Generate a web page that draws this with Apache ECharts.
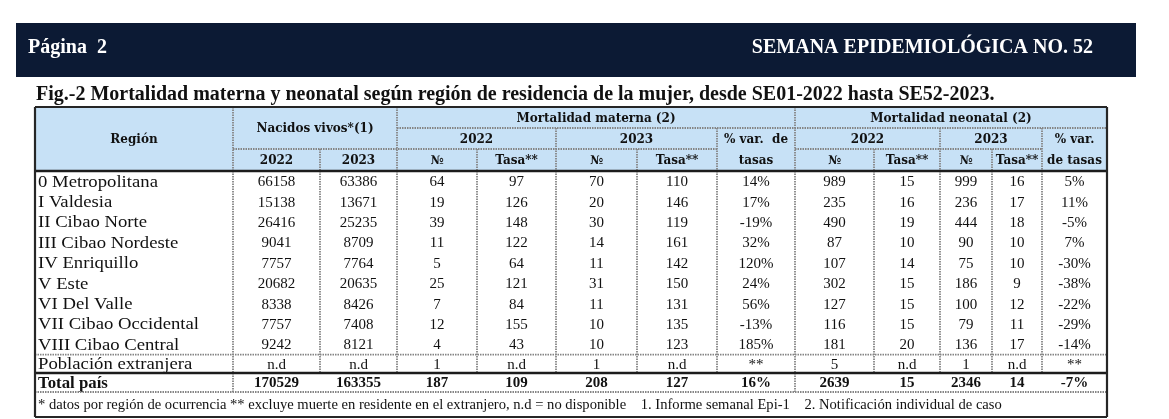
<!DOCTYPE html>
<html>
<head>
<meta charset="utf-8">
<script src="https://cdn.jsdelivr.net/npm/echarts@6/dist/echarts.min.js"></script>
<style>
  html, body { margin: 0; padding: 0; background: #fff; }
  #tabla { width: 1169px; height: 419px; }
</style>
</head>
<body>
<div id="tabla"></div>
<script>
// Mortalidad materna y neonatal por región

var regiones = ['0 Metropolitana', 'I Valdesia', 'II Cibao Norte', 'III Cibao Nordeste', 'IV Enriquillo',
    'V Este', 'VI Del Valle', 'VII Cibao Occidental', 'VIII Cibao Central', 'Población extranjera', 'Total país'];
var nacidos2022 = [66158, 15138, 26416, 9041, 7757, 20682, 8338, 7757, 9242, 'n.d', 170529];
var nacidos2023 = [63386, 13671, 25235, 8709, 7764, 20635, 8426, 7408, 8121, 'n.d', 163355];
var materna2022 = [64, 19, 39, 11, 5, 25, 7, 12, 4, 1, 187];
var tasaMat2022 = [97, 126, 148, 122, 64, 121, 84, 155, 43, 'n.d', 109];
var materna2023 = [70, 20, 30, 14, 11, 31, 11, 10, 10, 1, 208];
var tasaMat2023 = [110, 146, 119, 161, 142, 150, 131, 135, 123, 'n.d', 127];
var varMaterna = ['14%', '17%', '-19%', '32%', '120%', '24%', '56%', '-13%', '185%', '**', '16%'];
var neonatal2022 = [989, 235, 490, 87, 107, 302, 127, 116, 181, 5, 2639];
var tasaNeo2022 = [15, 16, 19, 10, 14, 15, 15, 15, 20, 'n.d', 15];
var neonatal2023 = [999, 236, 444, 90, 75, 186, 100, 79, 136, 1, 2346];
var tasaNeo2023 = [16, 17, 18, 10, 10, 9, 12, 11, 17, 'n.d', 14];
var varNeonatal = ['5%', '11%', '-5%', '7%', '-30%', '-38%', '-22%', '-29%', '-14%', '**', '-7%'];

var nota = '* datos por región de ocurrencia ** excluye muerte en residente en el extranjero, n.d = no disponible    1. Informe semanal Epi-1    2. Notificación individual de caso';

// anchos de columnas y altos de filas (unidades de la tabla)
var anchos = [198, 87, 77, 80, 79, 81, 80, 78, 79, 66, 52, 50, 65];
var altos = [21, 21, 22, 20.4, 20.4, 20.4, 20.4, 20.4, 20.4, 20.4, 20.4, 20.4, 18.4, 19, 25];

function acumular(arr) {
    var r = [0];
    for (var i = 0; i < arr.length; i++) r.push(r[i] + arr[i]);
    return r;
}
var X = acumular(anchos);
var Y = acumular(altos);
var ANCHO = X[X.length - 1], ALTO = Y[Y.length - 1];

var SERIF = '"Liberation Serif", serif';
var SERIF_ENC = '"DejaVu Serif", serif';
var AZUL = '#c7e1f6';

// celdas: c0, c1, r0, r1, texto, tipo
var celdas = [];
function celda(c0, c1, r0, r1, texto, tipo) {
    celdas.push({c0: c0, c1: c1, r0: r0, r1: r1, texto: String(texto), tipo: tipo});
}

// encabezado
celda(0, 1, 0, 3, 'Región', 'hdr');
celda(1, 3, 0, 2, 'Nacidos vivos*(1)', 'hdr');
celda(1, 2, 2, 3, '2022', 'hdr');
celda(2, 3, 2, 3, '2023', 'hdr');
celda(3, 8, 0, 1, 'Mortalidad materna (2)', 'hdr');
celda(3, 5, 1, 2, '2022', 'hdr');
celda(5, 7, 1, 2, '2023', 'hdr');
celda(7, 8, 1, 3, '% var.  de\ntasas', 'hdr2');
celda(3, 4, 2, 3, '№', 'hdr');
celda(4, 5, 2, 3, 'Tasa**', 'hdr');
celda(5, 6, 2, 3, '№', 'hdr');
celda(6, 7, 2, 3, 'Tasa**', 'hdr');
celda(8, 13, 0, 1, 'Mortalidad neonatal (2)', 'hdr');
celda(8, 10, 1, 2, '2022', 'hdr');
celda(10, 12, 1, 2, '2023', 'hdr');
celda(12, 13, 1, 3, '% var.\nde tasas', 'hdr2');
celda(8, 9, 2, 3, '№', 'hdr');
celda(9, 10, 2, 3, 'Tasa**', 'hdr');
celda(10, 11, 2, 3, '№', 'hdr');
celda(11, 12, 2, 3, 'Tasa**', 'hdr');

// cuerpo
var columnas = [nacidos2022, nacidos2023, materna2022, tasaMat2022, materna2023, tasaMat2023, varMaterna,
    neonatal2022, tasaNeo2022, neonatal2023, tasaNeo2023, varNeonatal];
for (var i = 0; i < regiones.length; i++) {
    var total = i === regiones.length - 1;
    celda(0, 1, 3 + i, 4 + i, regiones[i], total ? 'totreg' : 'reg');
    for (var j = 0; j < columnas.length; j++) {
        celda(j + 1, j + 2, 3 + i, 4 + i, columnas[j][i], total ? 'tot' : 'num');
    }
}
celda(0, 13, 14, 15, nota, 'nota');

var estilos = {
    hdr:    {font: SERIF_ENC, size: 12, weight: 'bold', align: 'center'},
    hdr2:   {font: SERIF_ENC, size: 12, weight: 'bold', align: 'center', lh: 21},
    reg:    {font: SERIF, size: 17, weight: 'normal', align: 'left', sx: 1.1},
    totreg: {font: SERIF, size: 16, weight: 'bold', align: 'left', sx: 1.05},
    num:    {font: SERIF, size: 15, weight: 'normal', align: 'center'},
    tot:    {font: SERIF, size: 15, weight: 'bold', align: 'center'},
    nota:   {font: SERIF, size: 14.6, weight: 'normal', align: 'left'}
};

// líneas: x0, y0, x1, y1 (en índices de borde), tipo
var lineas = [];
function linea(a0, b0, a1, b1, tipo) {
    lineas.push({p: [X[a0], Y[b0], X[a1], Y[b1]], tipo: tipo});
}
// verticales del encabezado
[[1, 0, 3], [3, 0, 3], [8, 0, 3], [2, 2, 3], [4, 2, 3], [5, 1, 3], [6, 2, 3], [7, 1, 3],
 [9, 2, 3], [10, 1, 3], [11, 2, 3], [12, 1, 3]].forEach(function (v) {
    linea(v[0], v[1], v[0], v[2], 'pto');
});
// verticales del cuerpo
for (var k = 1; k < 13; k++) linea(k, 3, k, 13, 'pto');
linea(1, 13, 1, 14, 'pto');
linea(8, 13, 8, 14, 'pto');
// horizontales
linea(3, 1, 13, 1, 'pto');
linea(1, 2, 7, 2, 'pto');
linea(8, 2, 12, 2, 'pto');
linea(0, 3, 13, 3, 'grueso');
linea(0, 12, 13, 12, 'pto');
linea(0, 13, 13, 13, 'grueso');
linea(0, 14, 13, 14, 'pto');
// marco
linea(0, 0, 13, 0, 'marco');
linea(0, 15, 13, 15, 'marco');
linea(0, 0, 0, 15, 'marco');
linea(13, 0, 13, 15, 'marco');

var trazos = {
    pto:    {stroke: '#858585', lineWidth: 1.8, lineDash: [1.5, 1]},
    grueso: {stroke: '#1c1c1c', lineWidth: 2.6},
    marco:  {stroke: '#262626', lineWidth: 2.2}
};

var chart = echarts.init(document.getElementById('tabla'), null, {renderer: 'canvas'});

chart.setOption({
    animation: false,
    title: {
        text: 'Fig.-2 Mortalidad materna y neonatal según región de residencia de la mujer, desde SE01-2022 hasta SE52-2023.',
        left: 31,
        top: 80,
        textStyle: {fontFamily: SERIF, fontWeight: 'bold', fontSize: 20, color: '#111'}
    },
    graphic: [
        {type: 'rect', shape: {x: 16, y: 23, width: 1120, height: 54}, style: {fill: '#0c1a34'}},
        {type: 'text', x: 28, y: 48, style: {text: 'Página  2', fill: '#fff', fontFamily: SERIF, fontWeight: 'bold', fontSize: 20, verticalAlign: 'middle'}},
        {type: 'text', x: 1093, y: 48, style: {text: 'SEMANA EPIDEMIOLÓGICA NO. 52', fill: '#fff', fontFamily: SERIF, fontWeight: 'bold', fontSize: 20, align: 'right', verticalAlign: 'middle'}}
    ],
    grid: {left: 35, top: 107, width: ANCHO, height: ALTO},
    xAxis: {type: 'value', min: 0, max: ANCHO, show: false},
    yAxis: {type: 'value', min: 0, max: ALTO, inverse: true, show: false},
    series: [
        {
            type: 'custom',
            name: 'celdas',
            clip: false,
            encode: {x: [0, 2], y: [1, 3]},
            data: celdas.map(function (c) { return [X[c.c0], Y[c.r0], X[c.c1], Y[c.r1]]; }),
            renderItem: function (params, api) {
                var c = celdas[params.dataIndex];
                var e = estilos[c.tipo];
                var a = api.coord([api.value(0), api.value(1)]);
                var b = api.coord([api.value(2), api.value(3)]);
                var enc = c.tipo === 'hdr' || c.tipo === 'hdr2';
                var tx = e.align === 'left' ? a[0] + 3 : (a[0] + b[0]) / 2;
                return {
                    type: 'group',
                    children: [
                        {type: 'rect', shape: {x: a[0], y: a[1], width: b[0] - a[0], height: b[1] - a[1]},
                         style: {fill: enc ? AZUL : '#fff'}},
                        {type: 'text', x: tx, y: (a[1] + b[1]) / 2 + 1, scaleX: e.sx || 1,
                         style: {text: c.texto, fill: '#111', fontFamily: e.font, fontWeight: e.weight,
                                 fontSize: e.size, align: e.align, verticalAlign: 'middle',
                                 lineHeight: e.lh || e.size + 2}}
                    ]
                };
            }
        },
        {
            type: 'custom',
            name: 'lineas',
            clip: false,
            z: 5,
            encode: {x: [0, 2], y: [1, 3]},
            data: lineas.map(function (l) { return l.p; }),
            renderItem: function (params, api) {
                var l = lineas[params.dataIndex];
                var a = api.coord([api.value(0), api.value(1)]);
                var b = api.coord([api.value(2), api.value(3)]);
                return {
                    type: 'line',
                    shape: {x1: a[0], y1: a[1], x2: b[0], y2: b[1]},
                    style: trazos[l.tipo]
                };
            }
        }
    ]
});
</script>
</body>
</html>
